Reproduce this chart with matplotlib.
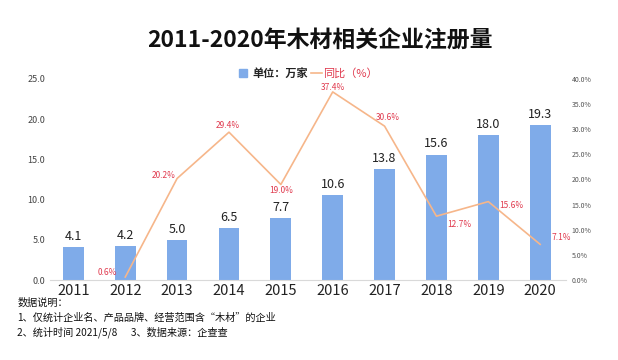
import matplotlib.pyplot as plt

plt.rcParams['font.family'] = ['Noto Sans CJK SC', 'DejaVu Sans']

years = ['2011', '2012', '2013', '2014', '2015', '2016', '2017', '2018', '2019', '2020']
counts = [4.1, 4.2, 5.0, 6.5, 7.7, 10.6, 13.8, 15.6, 18.0, 19.3]
growth = [None, 0.6, 20.2, 29.4, 19.0, 37.4, 30.6, 12.7, 15.6, 7.1]

# label offsets (points) for the growth labels
offsets = [None, (-13, 3.5), (-10, 2), (-1, 5), (0, -4), (0, 3.5), (2, 6.5), (16.5, -6), (16.5, -3), (15, 5)]

bar_color = '#7FABE9'
line_color = '#F6B68A'
red = '#E03A4E'

fig = plt.figure(figsize=(6.18, 3.6), dpi=100)
ax = fig.add_axes([0.081, 0.222, 0.835, 0.559])
x = list(range(len(years)))

ax.bar(x, counts, width=0.4, color=bar_color, zorder=2)
for xi, v in zip(x, counts):
    ax.text(xi, v + 0.5, f'{v:.1f}', ha='center', va='bottom', fontsize=9, color='#222222')

ax.set_ylim(0, 25)
ax.set_yticks([0, 5, 10, 15, 20, 25])
ax.set_yticklabels([f'{t:.1f}' for t in [0, 5, 10, 15, 20, 25]], fontsize=6.5, color='#444444')
ax.set_xlim(-0.45, 9.5)
ax.set_xticks(x)
ax.set_xticklabels(years, fontsize=10.5, color='#222222')
ax.tick_params(axis='both', length=0)
ax.tick_params(axis='x', pad=3)
for s in ['top', 'right', 'left']:
    ax.spines[s].set_visible(False)
ax.spines['bottom'].set_color('#D9D9D9')

ax2 = ax.twinx()
gx = [xi for xi, g in zip(x, growth) if g is not None]
gy = [g for g in growth if g is not None]
ax2.plot(gx, gy, color=line_color, lw=1.2, zorder=3)
for xi, g in zip(x, growth):
    if g is None:
        continue
    off = offsets[xi]
    ax2.annotate(f'{g:.1f}%', (xi, g), xytext=off, textcoords='offset points',
                 ha='center', va='center', fontsize=6, color=red)
ax2.set_ylim(0, 40)
ax2.set_yticks(range(0, 45, 5))
ax2.set_yticklabels([f'{t:.1f}%' for t in range(0, 45, 5)], fontsize=5, color='#555555')
ax2.tick_params(axis='y', length=0, pad=4)
for s in ['top', 'right', 'left', 'bottom']:
    ax2.spines[s].set_visible(False)

fig.text(0.517, 0.885, '2011-2020年木材相关企业注册量', ha='center', va='center',
         fontsize=16.5, fontweight='bold', color='#111111')

# legend
fig.patches.append(plt.Rectangle((0.387, 0.786), 0.012, 0.022, transform=fig.transFigure,
                                 color=bar_color, figure=fig))
fig.text(0.409, 0.797, '单位：万家', ha='left', va='center', fontsize=8, color='#222222', fontweight='bold')
fig.lines.append(plt.Line2D([0.503, 0.521], [0.797, 0.797], transform=fig.transFigure,
                            color=line_color, lw=1.2))
fig.text(0.523, 0.797, '同比（%）', ha='left', va='center', fontsize=8, color=red)

notes = ['数据说明：',
         '1、仅统计企业名、产品品牌、经营范围含“木材”的企业',
         '2、统计时间 2021/5/8      3、数据来源：企查查']
for i, t in enumerate(notes):
    fig.text(0.028, 0.158 - i * 0.04, t, ha='left', va='center', fontsize=7.3, color='#111111')

fig.savefig('out.png', dpi=100)
